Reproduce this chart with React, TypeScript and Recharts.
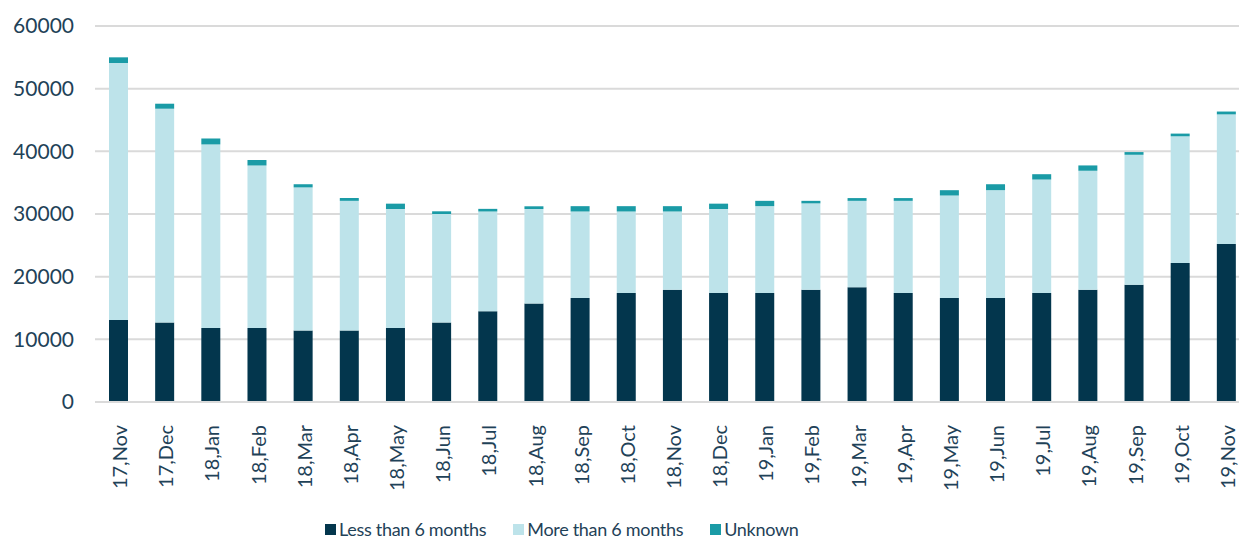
import { Bar, BarChart, CartesianGrid, Legend, XAxis, YAxis } from "recharts";

const months = [
  "17,Nov", "17,Dec", "18,Jan", "18,Feb", "18,Mar", "18,Apr", "18,May", "18,Jun", "18,Jul",
  "18,Aug", "18,Sep", "18,Oct", "18,Nov", "18,Dec", "19,Jan", "19,Feb", "19,Mar", "19,Apr",
  "19,May", "19,Jun", "19,Jul", "19,Aug", "19,Sep", "19,Oct", "19,Nov",
];
const lessThan6 = [
  13100, 12700, 11800, 11800, 11400, 11400, 11800, 12700, 14500, 15700, 16600, 17400, 17900,
  17400, 17400, 17900, 18300, 17400, 16600, 16600, 17400, 17900, 18700, 22200, 25200,
];
const moreThan6 = [
  41000, 34100, 29300, 25950, 22850, 20700, 19000, 17300, 15900, 15100, 13800, 13000, 12500,
  13400, 13850, 13800, 13800, 14700, 16350, 17200, 18100, 19000, 20750, 20200, 20700,
];
const unknown = [
  900, 800, 950, 850, 500, 450, 850, 430, 420, 430, 850, 850, 850,
  850, 850, 400, 440, 440, 850, 950, 850, 850, 430, 430, 450,
];
const yTicks = [0, 10000, 20000, 30000, 40000, 50000, 60000];

const DARK = "#03364d";
const LIGHT = "#bde3ea";
const TEAL = "#1a9ba6";
const TEXT = "#1f4258";
const FONT = "Lato, sans-serif";

const data = months.map((m, i) => ({
  month: m,
  less: lessThan6[i],
  more: moreThan6[i],
  unknown: unknown[i],
}));

const legendItems = [
  { label: "Less than 6 months", color: DARK },
  { label: "More than 6 months", color: LIGHT },
  { label: "Unknown", color: TEAL },
];

function MonthTick({ x, y, payload }: any) {
  return (
    <text
      x={0}
      y={0}
      transform={`translate(${x + 1},${y + 15}) rotate(-90)`}
      textAnchor="end"
      dominantBaseline="central"
      fill={TEXT}
      fontSize={20}
      fontFamily={FONT}
    >
      {payload.value}
    </text>
  );
}

function LegendContent() {
  return (
    <div
      style={{
        display: "flex",
        justifyContent: "flex-start",
        gap: 27,
        fontFamily: FONT,
        fontSize: 18,
        letterSpacing: -0.3,
        color: TEXT,
        paddingLeft: 325,
        paddingTop: 8,
      }}
    >
      {legendItems.map((it) => (
        <div key={it.label} style={{ display: "flex", alignItems: "center", gap: 3 }}>
          <span style={{ width: 11, height: 11, background: it.color, display: "inline-block" }} />
          <span>{it.label}</span>
        </div>
      ))}
    </div>
  );
}

export default function App() {
  return (
    <div style={{ position: "absolute", left: 0, top: 0, width: 1239, height: 540, overflow: "hidden", background: "#fff" }}>
      <BarChart
        width={1262}
        height={540}
        data={data}
        margin={{ top: 26, right: 13, left: 0, bottom: 0 }}
        barSize={19}
      >
        <CartesianGrid horizontal vertical={false} stroke="#dadada" strokeWidth={2} />
        <XAxis
          dataKey="month"
          interval={0}
          height={108}
          tick={<MonthTick />}
          tickLine={false}
          axisLine={{ stroke: "#dadada", strokeWidth: 2 }}
        />
        <YAxis
          width={95}
          domain={[0, 60000]}
          ticks={yTicks}
          tickLine={false}
          axisLine={false}
          tickSize={0}
          tickMargin={21}
          tick={{ fill: TEXT, fontSize: 21, fontFamily: FONT }}
        />
        <Legend verticalAlign="bottom" height={30} content={<LegendContent />} />
        <Bar dataKey="less" stackId="a" fill={DARK} isAnimationActive={false} />
        <Bar dataKey="more" stackId="a" fill={LIGHT} isAnimationActive={false} />
        <Bar dataKey="unknown" stackId="a" fill={TEAL} isAnimationActive={false} />
      </BarChart>
    </div>
  );
}
